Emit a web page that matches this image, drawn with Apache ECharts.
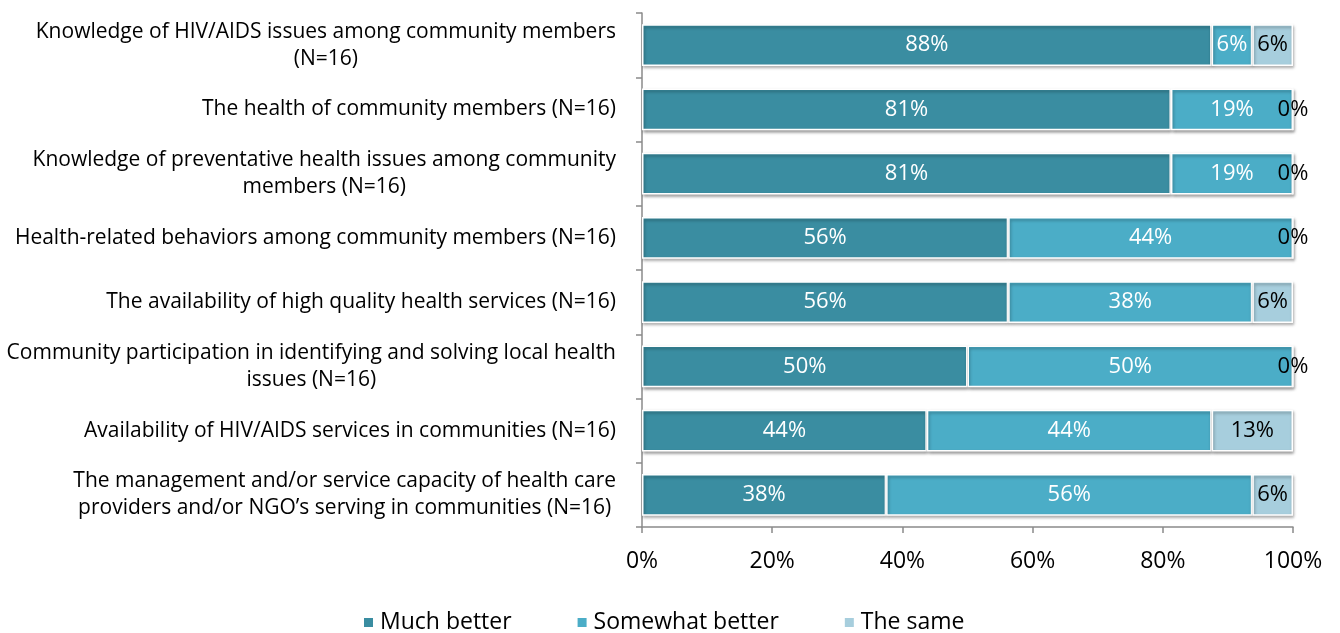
<!DOCTYPE html>
<html>
<head>
<meta charset="utf-8">
<script src="https://cdn.jsdelivr.net/npm/echarts@6/dist/echarts.min.js"></script>
<style>
  html, body { margin: 0; padding: 0; background: #fff; }
  #chart { width: 1340px; height: 633px; }
</style>
</head>
<body>
<div id="chart"></div>
<script>
// Survey items (top to bottom); "\n" marks the line break of long labels
var categories = [
  'Knowledge of HIV/AIDS issues among community members\n(N=16)',
  'The health of community members (N=16)',
  'Knowledge of preventative health issues among community\nmembers (N=16)',
  'Health-related behaviors among community members (N=16)',
  'The availability of high quality health services (N=16)',
  'Community participation in identifying and solving local health\nissues (N=16)',
  'Availability of HIV/AIDS services in communities (N=16)',
  'The management and/or service capacity of health care\nproviders and/or NGO\u2019s serving in communities (N=16)'
];

var respondents = 16;

// Number of respondents giving each answer, per item
var muchBetterCounts     = [14, 13, 13, 9, 9, 8, 7, 6];
var somewhatBetterCounts = [1, 3, 3, 7, 6, 8, 7, 9];
var theSameCounts        = [1, 0, 0, 0, 1, 0, 2, 1];

var seriesNames = ['Much better', 'Somewhat better', 'The same'];
var seriesColors = ['#3A8DA1', '#4BADC7', '#A7CEDD'];
var labelColors = ['#ffffff', '#ffffff', '#000000'];

var xTicks = [0, 20, 40, 60, 80, 100];

function toPercent(counts) {
  return counts.map(function (c) { return c / respondents * 100; });
}

var FONT = 'Open Sans';

function makeSeries(i, counts) {
  return {
    name: seriesNames[i],
    type: 'bar',
    stack: 'total',
    barWidth: '65%',
    data: toPercent(counts),
    itemStyle: {
      color: seriesColors[i],
      borderColor: '#ffffff',
      borderWidth: 1.5,
      shadowColor: 'rgba(0,0,0,0.35)',
      shadowBlur: 3,
      shadowOffsetX: 1,
      shadowOffsetY: 2
    },
    label: {
      show: true,
      position: 'inside',
      color: labelColors[i],
      fontFamily: FONT,
      fontSize: 22,
      formatter: function (p) { return Math.round(p.value) + '%'; }
    },
    emphasis: { disabled: true }
  };
}

var chart = echarts.init(document.getElementById('chart'), null, { renderer: 'canvas' });

chart.setOption({
  animation: false,
  backgroundColor: '#ffffff',
  textStyle: { fontFamily: FONT },
  grid: { left: 642, right: 47, top: 13, bottom: 106, containLabel: false },
  legend: {
    top: 606,
    left: 357,
    icon: 'rect',
    itemWidth: 11,
    itemHeight: 11,
    itemGap: 64,
    data: seriesNames,
    textStyle: { fontFamily: FONT, fontSize: 23, color: '#000', padding: [0, 0, 0, 1] }
  },
  xAxis: {
    type: 'value',
    min: xTicks[0],
    max: xTicks[xTicks.length - 1],
    interval: xTicks[1] - xTicks[0],
    axisLine: { show: true, lineStyle: { color: '#8a8a8a', width: 1.5 } },
    axisTick: { show: true, length: 6, lineStyle: { color: '#8a8a8a', width: 1.5 } },
    splitLine: { show: false },
    axisLabel: {
      color: '#000',
      fontFamily: FONT,
      fontSize: 23,
      margin: 23,
      formatter: '{value}%'
    }
  },
  yAxis: {
    type: 'category',
    inverse: true,
    data: categories,
    axisLine: { show: true, lineStyle: { color: '#8a8a8a', width: 1.5 } },
    axisTick: { show: true, length: 6, lineStyle: { color: '#8a8a8a', width: 1.5 } },
    axisLabel: {
      color: '#000',
      fontFamily: FONT,
      fontSize: 21,
      margin: 26,
      align: 'right',
      lineHeight: 27,
      formatter: function (v) {
        return v.split('\n').map(function (s) { return '{c|' + s + '}'; }).join('\n');
      },
      rich: {
        c: { align: 'center', fontFamily: FONT, fontSize: 21, lineHeight: 27, color: '#000' }
      }
    }
  },
  series: [
    makeSeries(0, muchBetterCounts),
    makeSeries(1, somewhatBetterCounts),
    makeSeries(2, theSameCounts)
  ]
});
</script>
</body>
</html>
